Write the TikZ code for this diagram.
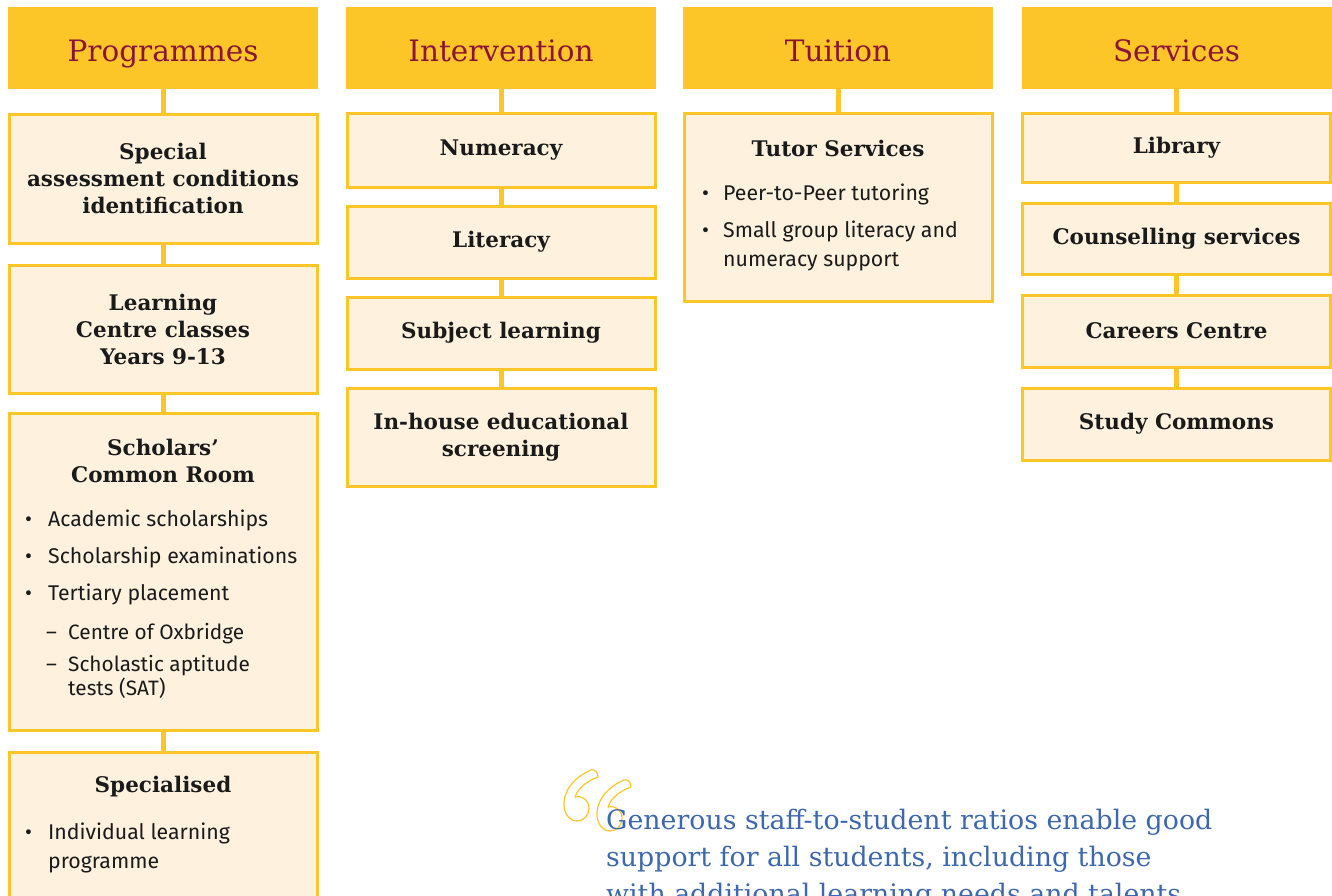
\documentclass[tikz,border=0pt]{standalone}
\usepackage{fontspec}
\setmainfont{Fira Sans}
\newfontfamily\slab{DejaVu Serif}
\definecolor{yel}{RGB}{253,198,40}
\definecolor{cream}{RGB}{254,242,223}
\definecolor{hdr}{RGB}{138,21,56}
\definecolor{qblue}{RGB}{61,104,175}
\definecolor{ink}{RGB}{26,26,26}
\tikzset{
  hdrbox/.style={fill=yel, draw=none, minimum width=310pt, minimum height=82pt, inner sep=0pt,
    text height=26pt, text depth=0pt,
    font=\slab\fontsize{29.5}{32}\selectfont, text=hdr},
  itembox/.style={fill=cream, draw=yel, line width=3pt, minimum width=308pt, inner sep=0pt,
    font=\slab\bfseries\fontsize{21.5}{27}\selectfont, text=ink, align=center},
  btitle/.style={font=\slab\bfseries\fontsize{21.5}{27}\selectfont, text=ink, align=center, inner sep=0pt},
  bul/.style={anchor=base west, inner sep=0pt, font=\fontsize{21.3}{29}\selectfont, text=ink, align=left},
  subbul/.style={bul, font=\fontsize{20.8}{24}\selectfont},
  link/.style={draw=yel, line width=5pt},
  qmark/.style={draw=yel, line width=1.2pt, fill=none, line join=round},
}
\begin{document}
\begin{tikzpicture}[x=1pt,y=-1pt]
\useasboundingbox (0,0) rectangle (1332,895);
\clip (0,0) rectangle (1332,895);
% headers
\node[hdrbox] (h1) at (163,48) {Programmes};
\node[hdrbox] (h2) at (501,48) {Intervention};
\node[hdrbox] (h3) at (838,48) {Tuition};
\node[hdrbox] (h4) at (1176.5,48) {Services};
% column 1
\node[itembox, minimum height=129pt] (p1) at (163,178.5) {Special\\assessment conditions\\identification};
\node[itembox, minimum height=128pt] (p2) at (163,329) {Learning\\Centre classes\\Years 9-13};
\node[itembox, minimum height=317pt] (p3) at (163,571.5) {};
\node[itembox, minimum height=180pt] (p4) at (163,842) {};
% column 2
\node[itembox, minimum height=74pt] (i1) at (501,150) {Numeracy};
\node[itembox, minimum height=72pt] (i2) at (501,242) {Literacy};
\node[itembox, minimum height=72pt] (i3) at (501,333) {Subject learning};
\node[itembox, minimum height=98pt] (i4) at (501,437) {In-house educational\\screening};
% column 3
\node[itembox, minimum height=188pt] (t1) at (838,207) {};
% column 4
\node[itembox, minimum height=69pt] (s1) at (1176.5,147.5) {Library};
\node[itembox, minimum height=71pt] (s2) at (1176.5,238.5) {Counselling services};
\node[itembox, minimum height=72pt] (s3) at (1176.5,331) {Careers Centre};
\node[itembox, minimum height=72pt] (s4) at (1176.5,424) {Study Commons};
% connectors
\draw[link] (h1.south) -- (p1.north);
\draw[link] (p1.south) -- (p2.north);
\draw[link] (p2.south) -- (p3.north);
\draw[link] (p3.south) -- (p4.north);
\draw[link] (h2.south) -- (i1.north);
\draw[link] (i1.south) -- (i2.north);
\draw[link] (i2.south) -- (i3.north);
\draw[link] (i3.south) -- (i4.north);
\draw[link] (h3.south) -- (t1.north);
\draw[link] (h4.south) -- (s1.north);
\draw[link] (s1.south) -- (s2.north);
\draw[link] (s2.south) -- (s3.north);
\draw[link] (s3.south) -- (s4.north);
% box 3 text
\node[btitle] (p3t) at (163,460.5) {Scholars’\\Common Room};
\node[bul] (p3a) at (25,526) {•};
\node[bul] (p3at) at (48,526) {Academic scholarships};
\node[bul] (p3b) at (25,563) {•};
\node[bul] (p3bt) at (48,563) {Scholarship examinations};
\node[bul] (p3c) at (25,600) {•};
\node[bul] (p3ct) at (48,600) {Tertiary placement};
\node[subbul] (p3d) at (46,639) {–};
\node[subbul] (p3dt) at (68,639) {Centre of Oxbridge};
\node[subbul] (p3e) at (46,671) {–};
\node[subbul] (p3et) at (68,695) {Scholastic aptitude\\tests (SAT)};
% box 4 text
\node[btitle] (p4t) at (163,787) {Specialised};
\node[bul] (p4a) at (25,839) {•};
\node[bul] (p4at) at (48,868) {Individual learning\\programme};
% tutor text
\node[btitle] (t1t) at (838,148) {Tutor Services};
\node[bul] (t1a) at (702,200) {•};
\node[bul] (t1at) at (723,200) {Peer-to-Peer tutoring};
\node[bul] (t1b) at (702,237) {•};
\node[bul] (t1bt) at (723,266) {Small group literacy and\\numeracy support};
% quote marks
\foreach \dx/\dy in {0/0, 33/10} {
\draw[qmark, shift={(\dx,\dy)}] (591,770) .. controls (572,778) and (563,793) .. (564,806)
  .. controls (565,816) and (571,821) .. (577,821)
  .. controls (584,821) and (589,815) .. (589,808)
  .. controls (589,800) and (582,795) .. (575,797)
  .. controls (578,788) and (587,781) .. (598,777)
  .. controls (598,772) and (595,769) .. (591,770) -- cycle;
}
% quote text
\node[anchor=base west, inner sep=0pt, text=qblue, align=left,
  font=\slab\fontsize{26.8}{37}\selectfont] (q) at (606,903)
  {Generous staff-to-student ratios enable good\\support for all students, including those\\with additional learning needs and talents.};
\end{tikzpicture}
\end{document}
